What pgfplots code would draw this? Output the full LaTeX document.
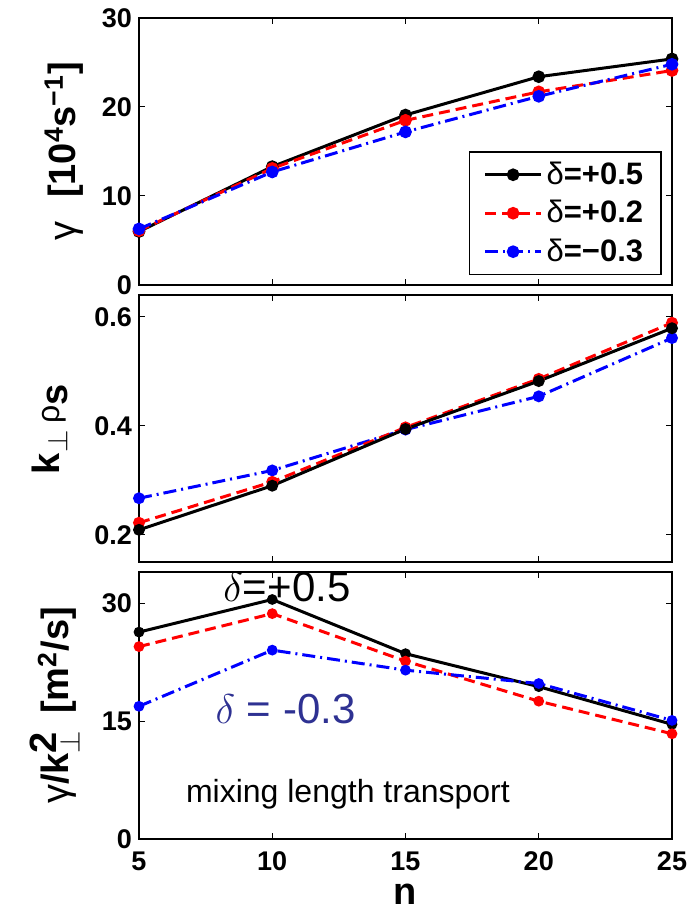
\documentclass[border=0pt]{standalone}
\usepackage{fontspec}
\setmainfont{Liberation Sans}
\usepackage{pgfplots}
\pgfplotsset{compat=1.18}
\definecolor{annblue}{RGB}{46,49,146}

\pgfplotsset{
  panel/.style={
    width=266.5pt, height=133.5pt, scale only axis,
    xmin=5, xmax=25, xtick={5,10,15,20,25},
    axis line style={line width=0.7pt},
    every tick/.style={black, line width=0.5pt},
    major tick length=3pt,
    tick label style={font=\bfseries\fontsize{13.5}{13.5}\selectfont},
    xticklabel style={yshift=-3pt},
    /pgf/number format/assume math mode=true,
    label style={font=\bfseries\fontsize{19}{19}\selectfont},
    clip=false,
    legend image code/.code={\draw[mark repeat=2,mark phase=2,##1] plot coordinates {(0pt,0pt)(14pt,0pt)(28pt,0pt)};},
  },
  kblack/.style={black, line width=1.5pt, solid, mark=*, mark options={solid, fill=black}},
  kred/.style={red, line width=1.5pt, dash pattern=on 5.5pt off 3pt, mark=*, mark options={solid, fill=red}},
  kblue/.style={blue, line width=1.5pt, dash pattern=on 6.5pt off 2.5pt on 1pt off 2.5pt, mark=*, mark options={solid, fill=blue}},
}

\begin{document}
\begin{tikzpicture}

% growth rate
\begin{axis}[panel, at={(0,277pt)},
    ymin=0, ymax=30, ytick={0,10,20,30}, xticklabels={},
    ylabel={{\mdseries γ}\hspace{12pt}[10\textsuperscript{4}s\textsuperscript{−1}]},
    ylabel style={at={(axis description cs:-0.141,0.5)}, anchor=center},
    mark size=2.4pt,
    legend style={at={(rel axis cs:0.981,0.037)}, anchor=south east, draw=black, line width=0.7pt,
      font=\bfseries\fontsize{15.5}{15.5}\selectfont, cells={anchor=west},
      inner xsep=7pt, inner ysep=3pt, row sep=2.5pt},
]
\addplot[kblack] coordinates {(5,6.0) (10,13.3) (15,19.1) (20,23.4) (25,25.4)};
\addplot[kred] coordinates {(5,6.1) (10,13.1) (15,18.5) (20,21.7) (25,24.1)};
\addplot[kblue] coordinates {(5,6.3) (10,12.7) (15,17.2) (20,21.2) (25,24.8)};
\legend{{\mdseries δ}=+0.5, {\mdseries δ}=+0.2, {\mdseries δ}=−0.3}
\end{axis}

% k_perp rho_s
\begin{axis}[panel, at={(0,138.5pt)},
    ymin=0.15, ymax=0.64, ytick={0.2,0.4,0.6}, xticklabels={},
    ylabel={k$_{\perp}$\,{\mdseries\fontsize{16}{16}\selectfont ρ}$_{\textbf{s}}$},
    ylabel style={at={(axis description cs:-0.167,0.5)}, anchor=center},
    mark size=2.2pt,
]
\addplot[kblue] coordinates {(5,0.267) (10,0.318) (15,0.393) (20,0.454) (25,0.561)};
\addplot[kred] coordinates {(5,0.222) (10,0.297) (15,0.397) (20,0.486) (25,0.589)};
\addplot[kblack] coordinates {(5,0.209) (10,0.290) (15,0.394) (20,0.482) (25,0.579)};
\end{axis}

% mixing length transport
\begin{axis}[panel, at={(0,0)},
    ymin=0, ymax=34, ytick={0,15,30},
    xlabel={n},
    xlabel style={yshift=-3pt, inner ysep=0pt},
    ylabel={{\mdseries γ}/k$^{\textbf{2}}_{\perp}$\hspace{8pt}[m\textsuperscript{2}/s]},
    ylabel style={at={(axis description cs:-0.158,0.5)}, anchor=center},
    mark size=1.9pt,
]
\addplot[kblack] coordinates {(5,26.35) (10,30.5) (15,23.6) (20,19.4) (25,14.6)};
\addplot[kred] coordinates {(5,24.5) (10,28.7) (15,22.65) (20,17.55) (25,13.4)};
\addplot[kblue] coordinates {(5,16.9) (10,24.05) (15,21.5) (20,19.8) (25,15.1)};
\node[font=\fontsize{21}{21}\selectfont] at (axis cs:10.55,32.05) {$\delta$=+0.5};
\node[font=\fontsize{21}{21}\selectfont, text=annblue] at (axis cs:10.5,16.5) {$\delta$ = -0.3};
\node[font=\fontsize{16}{16}\selectfont] at (axis cs:12.84,5.66) {mixing length transport};
\end{axis}

\pgfresetboundingbox
\path[use as bounding box] (-69.5pt,-37pt) rectangle (278pt,419.5pt);
\end{tikzpicture}
\end{document}
